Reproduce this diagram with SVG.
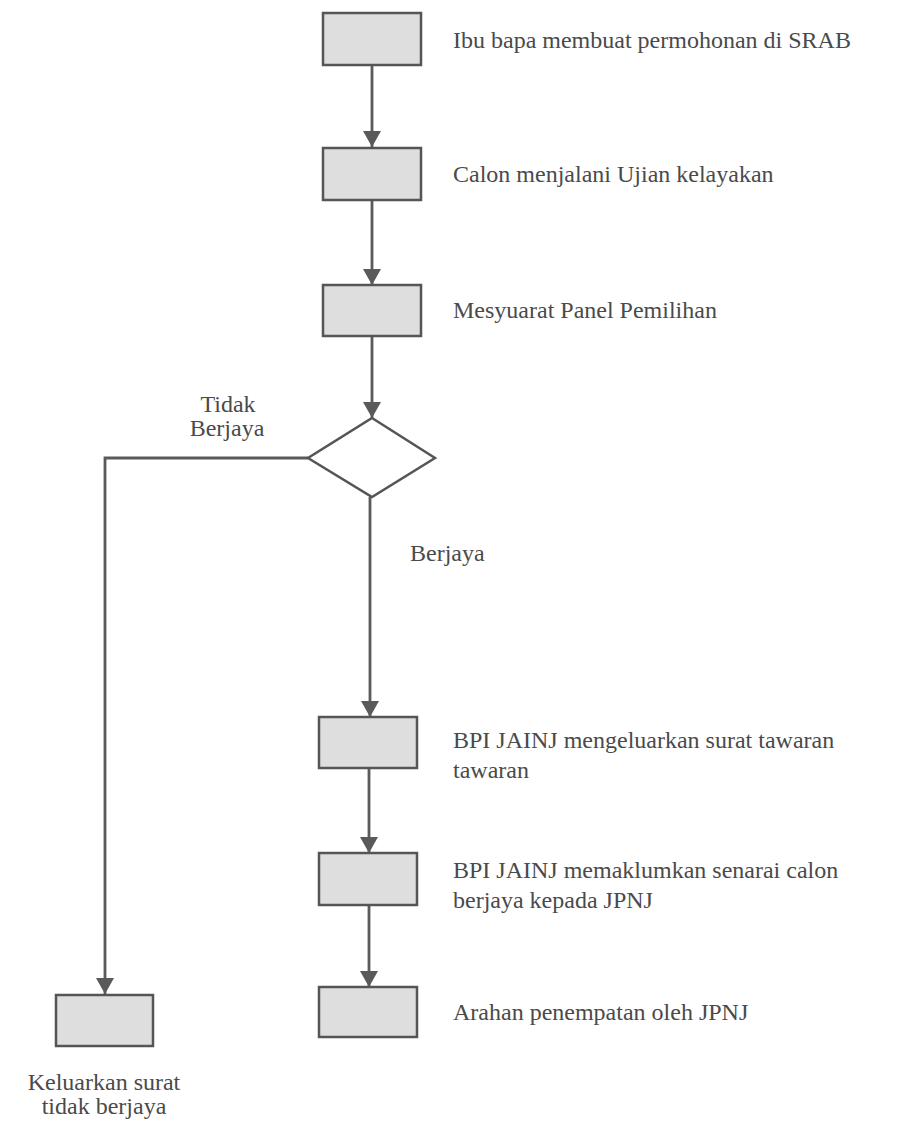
<svg xmlns="http://www.w3.org/2000/svg" width="924" height="1127" viewBox="0 0 924 1127">
  <style>
    .box { fill: #dedede; stroke: #555; stroke-width: 2.5; }
    .link { fill: none; stroke: #5a5a5a; stroke-width: 2.8; }
    .lbl { font-family: "Liberation Serif", "DejaVu Serif", serif; font-size: 24px; fill: #4a4a4a; }
    .mid { text-anchor: middle; }
  </style>
  <defs>
    <marker id="arrow" viewBox="0 0 16 18" refX="16" refY="9" markerWidth="16" markerHeight="18" markerUnits="userSpaceOnUse" orient="auto">
      <path d="M0,0 L16,9 L0,18 Z" fill="#5a5a5a"/>
    </marker>
  </defs>
  <rect width="924" height="1127" fill="#fff"/>

  <g id="connectors">
    <line class="link" x1="372" y1="65" x2="372" y2="147" marker-end="url(#arrow)"/>
    <line class="link" x1="372" y1="200" x2="372" y2="285" marker-end="url(#arrow)"/>
    <line class="link" x1="372" y1="336" x2="372" y2="418" marker-end="url(#arrow)"/>
    <polyline class="link" points="308,458 105,458 105,994" marker-end="url(#arrow)"/>
    <line class="link" x1="370" y1="497" x2="370" y2="717" marker-end="url(#arrow)"/>
    <line class="link" x1="369" y1="768" x2="369" y2="853" marker-end="url(#arrow)"/>
    <line class="link" x1="369" y1="905" x2="369" y2="987" marker-end="url(#arrow)"/>
    <text class="lbl mid" x="228" y="412">Tidak</text>
    <text class="lbl mid" x="227" y="436">Berjaya</text>
    <text class="lbl" x="410" y="561">Berjaya</text>
  </g>

  <g id="n1">
    <rect class="box" x="323" y="13" width="98" height="52"/>
    <text class="lbl" x="453" y="48">Ibu bapa membuat permohonan di SRAB</text>
  </g>
  <g id="n2">
    <rect class="box" x="323" y="148" width="98" height="52"/>
    <text class="lbl" x="453" y="182">Calon menjalani Ujian kelayakan</text>
  </g>
  <g id="n3">
    <rect class="box" x="323" y="285" width="98" height="51"/>
    <text class="lbl" x="453" y="318">Mesyuarat Panel Pemilihan</text>
  </g>
  <g id="decision">
    <polygon class="box" style="fill:#fff" points="372,418 435,458 372,497 308,458"/>
  </g>
  <g id="n4">
    <rect class="box" x="319" y="717" width="98" height="51"/>
    <text class="lbl" x="453" y="748">BPI JAINJ mengeluarkan surat tawaran</text>
    <text class="lbl" x="453" y="778">tawaran</text>
  </g>
  <g id="n5">
    <rect class="box" x="319" y="853" width="98" height="52"/>
    <text class="lbl" x="453" y="878">BPI JAINJ memaklumkan senarai calon</text>
    <text class="lbl" x="453" y="908">berjaya kepada JPNJ</text>
  </g>
  <g id="n6">
    <rect class="box" x="319" y="987" width="98" height="50"/>
    <text class="lbl" x="453" y="1020">Arahan penempatan oleh JPNJ</text>
  </g>
  <g id="n7">
    <rect class="box" x="56" y="995" width="97" height="51"/>
    <text class="lbl mid" x="104" y="1090">Keluarkan surat</text>
    <text class="lbl mid" x="104" y="1114">tidak berjaya</text>
  </g>
</svg>
